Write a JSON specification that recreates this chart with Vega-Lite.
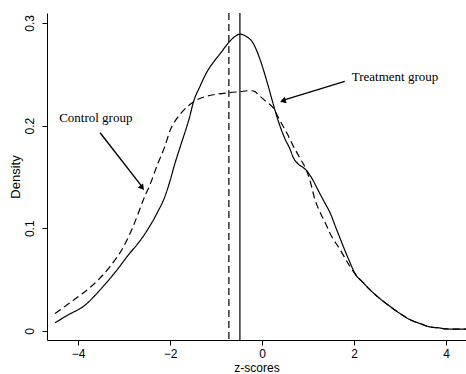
{
  "$schema": "https://vega.github.io/schema/vega-lite/v6.json",
  "width": 419,
  "height": 327,
  "autosize": "none",
  "padding": {"left": 47, "top": 13, "right": 0, "bottom": 34},
  "background": "white",
  "view": {"stroke": null},
  "config": {
    "font": "Liberation Sans",
    "axis": {"grid": false, "domainColor": "black", "tickColor": "black", "labelColor": "black", "titleColor": "black", "labelFont": "Liberation Sans", "titleFont": "Liberation Sans", "labelFontSize": 12, "titleFontSize": 13, "titleFontWeight": "normal", "tickSize": 5, "domainWidth": 1, "tickWidth": 1}
  },
  "datasets": {
    "curves": [
      {"z": -4.5, "density": 0.008, "group": "Treatment group"},
      {"z": -4.2, "density": 0.016, "group": "Treatment group"},
      {"z": -3.88, "density": 0.024, "group": "Treatment group"},
      {"z": -3.52, "density": 0.040, "group": "Treatment group"},
      {"z": -3.16, "density": 0.059, "group": "Treatment group"},
      {"z": -2.87, "density": 0.076, "group": "Treatment group"},
      {"z": -2.7, "density": 0.085, "group": "Treatment group"},
      {"z": -2.51, "density": 0.097, "group": "Treatment group"},
      {"z": -2.29, "density": 0.114, "group": "Treatment group"},
      {"z": -2.11, "density": 0.131, "group": "Treatment group"},
      {"z": -2.0, "density": 0.146, "group": "Treatment group"},
      {"z": -1.9, "density": 0.162, "group": "Treatment group"},
      {"z": -1.78, "density": 0.179, "group": "Treatment group"},
      {"z": -1.57, "density": 0.209, "group": "Treatment group"},
      {"z": -1.49, "density": 0.223, "group": "Treatment group"},
      {"z": -1.35, "density": 0.238, "group": "Treatment group"},
      {"z": -1.2, "density": 0.252, "group": "Treatment group"},
      {"z": -1.05, "density": 0.262, "group": "Treatment group"},
      {"z": -0.91, "density": 0.270, "group": "Treatment group"},
      {"z": -0.7, "density": 0.282, "group": "Treatment group"},
      {"z": -0.58, "density": 0.287, "group": "Treatment group"},
      {"z": -0.48, "density": 0.289, "group": "Treatment group"},
      {"z": -0.35, "density": 0.287, "group": "Treatment group"},
      {"z": -0.19, "density": 0.280, "group": "Treatment group"},
      {"z": -0.04, "density": 0.264, "group": "Treatment group"},
      {"z": 0.1, "density": 0.244, "group": "Treatment group"},
      {"z": 0.25, "density": 0.220, "group": "Treatment group"},
      {"z": 0.35, "density": 0.205, "group": "Treatment group"},
      {"z": 0.5, "density": 0.187, "group": "Treatment group"},
      {"z": 0.61, "density": 0.177, "group": "Treatment group"},
      {"z": 0.68, "density": 0.169, "group": "Treatment group"},
      {"z": 0.8, "density": 0.162, "group": "Treatment group"},
      {"z": 0.9, "density": 0.159, "group": "Treatment group"},
      {"z": 0.97, "density": 0.156, "group": "Treatment group"},
      {"z": 1.08, "density": 0.149, "group": "Treatment group"},
      {"z": 1.22, "density": 0.137, "group": "Treatment group"},
      {"z": 1.35, "density": 0.126, "group": "Treatment group"},
      {"z": 1.48, "density": 0.115, "group": "Treatment group"},
      {"z": 1.62, "density": 0.099, "group": "Treatment group"},
      {"z": 1.77, "density": 0.082, "group": "Treatment group"},
      {"z": 1.9, "density": 0.068, "group": "Treatment group"},
      {"z": 2.02, "density": 0.056, "group": "Treatment group"},
      {"z": 2.2, "density": 0.047, "group": "Treatment group"},
      {"z": 2.35, "density": 0.040, "group": "Treatment group"},
      {"z": 2.55, "density": 0.032, "group": "Treatment group"},
      {"z": 2.78, "density": 0.024, "group": "Treatment group"},
      {"z": 3.0, "density": 0.017, "group": "Treatment group"},
      {"z": 3.22, "density": 0.011, "group": "Treatment group"},
      {"z": 3.45, "density": 0.007, "group": "Treatment group"},
      {"z": 3.65, "density": 0.004, "group": "Treatment group"},
      {"z": 3.85, "density": 0.003, "group": "Treatment group"},
      {"z": 4.0, "density": 0.002, "group": "Treatment group"},
      {"z": 4.2, "density": 0.0018, "group": "Treatment group"},
      {"z": 4.5, "density": 0.0017, "group": "Treatment group"},
      {"z": -4.5, "density": 0.017, "group": "Control group"},
      {"z": -4.1, "density": 0.030, "group": "Control group"},
      {"z": -3.67, "density": 0.045, "group": "Control group"},
      {"z": -3.3, "density": 0.063, "group": "Control group"},
      {"z": -3.01, "density": 0.082, "group": "Control group"},
      {"z": -2.8, "density": 0.102, "group": "Control group"},
      {"z": -2.54, "density": 0.132, "group": "Control group"},
      {"z": -2.43, "density": 0.143, "group": "Control group"},
      {"z": -2.29, "density": 0.160, "group": "Control group"},
      {"z": -2.11, "density": 0.180, "group": "Control group"},
      {"z": -2.0, "density": 0.195, "group": "Control group"},
      {"z": -1.85, "density": 0.207, "group": "Control group"},
      {"z": -1.7, "density": 0.215, "group": "Control group"},
      {"z": -1.49, "density": 0.223, "group": "Control group"},
      {"z": -1.25, "density": 0.228, "group": "Control group"},
      {"z": -1.06, "density": 0.230, "group": "Control group"},
      {"z": -0.72, "density": 0.232, "group": "Control group"},
      {"z": -0.49, "density": 0.233, "group": "Control group"},
      {"z": -0.26, "density": 0.234, "group": "Control group"},
      {"z": -0.15, "density": 0.233, "group": "Control group"},
      {"z": -0.08, "density": 0.230, "group": "Control group"},
      {"z": 0.1, "density": 0.223, "group": "Control group"},
      {"z": 0.25, "density": 0.217, "group": "Control group"},
      {"z": 0.33, "density": 0.210, "group": "Control group"},
      {"z": 0.45, "density": 0.200, "group": "Control group"},
      {"z": 0.55, "density": 0.192, "group": "Control group"},
      {"z": 0.68, "density": 0.180, "group": "Control group"},
      {"z": 0.83, "density": 0.168, "group": "Control group"},
      {"z": 0.97, "density": 0.156, "group": "Control group"},
      {"z": 1.04, "density": 0.147, "group": "Control group"},
      {"z": 1.15, "density": 0.128, "group": "Control group"},
      {"z": 1.28, "density": 0.114, "group": "Control group"},
      {"z": 1.41, "density": 0.102, "group": "Control group"},
      {"z": 1.48, "density": 0.095, "group": "Control group"},
      {"z": 1.7, "density": 0.079, "group": "Control group"},
      {"z": 1.91, "density": 0.063, "group": "Control group"},
      {"z": 2.02, "density": 0.056, "group": "Control group"},
      {"z": 2.2, "density": 0.047, "group": "Control group"},
      {"z": 2.35, "density": 0.040, "group": "Control group"},
      {"z": 2.55, "density": 0.032, "group": "Control group"},
      {"z": 2.78, "density": 0.024, "group": "Control group"},
      {"z": 3.0, "density": 0.017, "group": "Control group"},
      {"z": 3.22, "density": 0.011, "group": "Control group"},
      {"z": 3.45, "density": 0.007, "group": "Control group"},
      {"z": 3.65, "density": 0.004, "group": "Control group"},
      {"z": 3.85, "density": 0.003, "group": "Control group"},
      {"z": 4.0, "density": 0.002, "group": "Control group"},
      {"z": 4.2, "density": 0.0018, "group": "Control group"},
      {"z": 4.5, "density": 0.0017, "group": "Control group"}
    ],
    "means": [
      {"group": "Treatment group", "mean": -0.48},
      {"group": "Control group", "mean": -0.72}
    ],
    "labels": [
      {"label": "Control group", "z": -4.41, "density": 0.2074},
      {"label": "Treatment group", "z": 1.95, "density": 0.2476}
    ],
    "arrows": [
      {"group": "Control group", "z": -3.52, "density": 0.193, "z2": -2.6, "density2": 0.14},
      {"group": "Treatment group", "z": 1.8, "density": 0.243, "z2": 0.45, "density2": 0.2245}
    ],
    "heads": [
      {"group": "Control group", "z": -2.617, "density": 0.1402},
      {"group": "Treatment group", "z": 0.474, "density": 0.2244}
    ]
  },
  "layer": [
    {
      "data": {"name": "curves"},
      "mark": {"type": "line", "clip": true, "strokeWidth": 1.2, "color": "black", "interpolate": "monotone"},
      "encoding": {
        "x": {"field": "z", "type": "quantitative", "scale": {"domain": [-4.674, 4.435], "nice": false, "zero": false}, "axis": {"values": [-4, -2, 0, 2, 4], "title": "z-scores", "labelPadding": 3, "titlePadding": 3, "titleFontSize": 12, "format": "d"}},
        "y": {"field": "density", "type": "quantitative", "scale": {"domain": [-0.0088, 0.3096], "nice": false, "zero": false}, "axis": {"values": [0, 0.1, 0.2, 0.3], "title": "Density", "labelAngle": -90, "labelPadding": 6, "titlePadding": 1, "labelExpr": "datum.value == 0 ? '0' : format(datum.value, '.1f')"}},
        "strokeDash": {"field": "group", "type": "nominal", "scale": {"domain": ["Treatment group", "Control group"], "range": [[1, 0], [7, 4]]}, "legend": null},
        "detail": {"field": "group"}
      }
    },
    {
      "data": {"name": "means"},
      "mark": {"type": "rule", "color": "black", "strokeWidth": 1.2},
      "encoding": {
        "x": {"field": "mean", "type": "quantitative"},
        "strokeDash": {"field": "group", "type": "nominal", "legend": null}
      }
    },
    {
      "data": {"name": "arrows"},
      "mark": {"type": "rule", "color": "black", "strokeWidth": 1.4},
      "encoding": {
        "x": {"field": "z", "type": "quantitative"},
        "y": {"field": "density", "type": "quantitative"},
        "x2": {"field": "z2"},
        "y2": {"field": "density2"}
      }
    },
    {
      "data": {"name": "heads"},
      "transform": [{"filter": "datum.group == 'Control group'"}],
      "mark": {"type": "point", "shape": "triangle", "filled": true, "color": "black", "opacity": 1, "size": 45, "angle": 142},
      "encoding": {
        "x": {"field": "z", "type": "quantitative"},
        "y": {"field": "density", "type": "quantitative"}
      }
    },
    {
      "data": {"name": "heads"},
      "transform": [{"filter": "datum.group == 'Treatment group'"}],
      "mark": {"type": "point", "shape": "triangle", "filled": true, "color": "black", "opacity": 1, "size": 45, "angle": 253},
      "encoding": {
        "x": {"field": "z", "type": "quantitative"},
        "y": {"field": "density", "type": "quantitative"}
      }
    },
    {
      "data": {"name": "labels"},
      "mark": {"type": "text", "font": "Liberation Serif", "fontSize": 13, "align": "left", "baseline": "middle", "color": "black"},
      "encoding": {
        "x": {"field": "z", "type": "quantitative"},
        "y": {"field": "density", "type": "quantitative"},
        "text": {"field": "label"}
      }
    }
  ]
}
